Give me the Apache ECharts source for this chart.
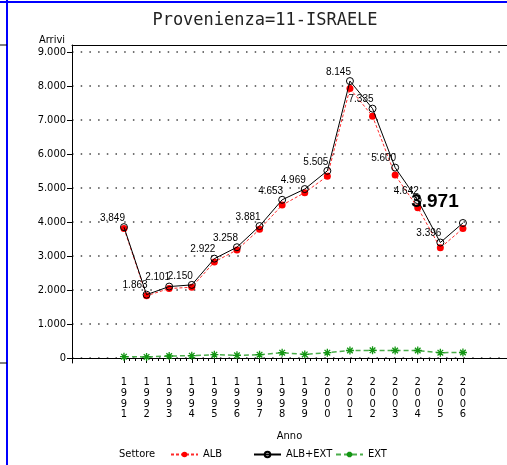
<!DOCTYPE html>
<html lang="it">
<head>
    <meta charset="UTF-8" />
    <title>Provenienza=11-ISRAELE</title>
    <script src="https://cdn.jsdelivr.net/npm/echarts@6/dist/echarts.min.js"></script>
    <style>
        html, body { margin: 0; padding: 0; background: #fff; }
        #main { width: 507px; height: 465px; }
    </style>
</head>
<body>
<div id="main"></div>
<script type="text/javascript">
    // valori
    var anni = [1991, 1992, 1993, 1994, 1995, 1996, 1997, 1998, 1999, 2000, 2001, 2002, 2003, 2004, 2005, 2006];
    var albExt = [3849, 1863, 2101, 2150, 2922, 3258, 3881, 4653, 4969, 5505, 8145, 7335, 5600, 4642, 3396, 3971];
    var alb = [3811, 1831, 2042, 2082, 2825, 3179, 3784, 4497, 4864, 5349, 7925, 7110, 5380, 4422, 3240, 3809];
    var ext = [38, 32, 59, 68, 97, 79, 97, 156, 105, 156, 220, 225, 220, 220, 156, 162];
    var yTicks = [0, 1000, 2000, 3000, 4000, 5000, 6000, 7000, 8000, 9000];

    var narrow = "'Liberation Sans Narrow', 'DejaVu Sans Condensed', 'Liberation Sans', sans-serif";

    function fmt(v) {
        return String(v).replace(/\B(?=(\d{3})+(?!\d))/g, '.');
    }

    // tacche secondarie
    var xMinor = [];
    for (var a = anni[0]; a < anni[anni.length - 1]; a++) {
        xMinor.push(a + 0.25, a + 0.5, a + 0.75);
    }
    var yMinor = [];
    for (var v = 0; v < 9000; v += 200) {
        if (v % 1000 !== 0) yMinor.push(v);
    }

    function pairs(vals) {
        return anni.map(function (a, i) { return [a, vals[i]]; });
    }

    var totData = pairs(albExt);
    totData[totData.length - 1] = {
        value: totData[totData.length - 1],
        label: { fontSize: 19, fontWeight: 'bold', offset: [-28, -8] }
    };

    var xMin = 1988.7, xMax = 2007.95;
    var yMin = -147, yMax = 9206;

    var chart = echarts.init(document.getElementById('main'));
    chart.setOption({
        animation: false,
        title: {
            text: 'Provenienza=11-ISRAELE',
            left: 260,
            textAlign: 'center',
            top: 7,
            textStyle: {
                fontFamily: "'DejaVu Sans Mono', monospace",
                fontSize: 17,
                fontWeight: 'normal',
                color: '#222'
            }
        },
        grid: { left: 72, right: 0, top: 45, bottom: 102 },
        legend: [
            { data: ['ALB'], left: 170, top: 449, padding: 0, itemWidth: 27, itemHeight: 7, selectedMode: false,
              textStyle: { fontFamily: narrow, fontSize: 11, color: '#000' } },
            { data: ['ALB+EXT'], left: 253, top: 449, padding: 0, itemWidth: 27, itemHeight: 7, selectedMode: false,
              textStyle: { fontFamily: narrow, fontSize: 11, color: '#000' } },
            { data: ['EXT'], left: 335, top: 449, padding: 0, itemWidth: 27, itemHeight: 7, selectedMode: false,
              textStyle: { fontFamily: narrow, fontSize: 11, color: '#000' } }
        ],
        xAxis: [
            {
                type: 'value', min: xMin, max: xMax, position: 'bottom',
                axisLine: { show: true, lineStyle: { color: '#000', width: 1 } },
                axisTick: { show: true, customValues: anni, length: 5, lineStyle: { color: '#000' } },
                axisLabel: {
                    customValues: anni, margin: 14,
                    fontFamily: narrow, fontSize: 11, lineHeight: 10.7, color: '#000',
                    formatter: function (val) { return String(val).split('').join('\n'); }
                },
                splitLine: { show: false },
                name: 'Anno', nameLocation: 'middle', nameGap: 68,
                nameTextStyle: { fontFamily: narrow, fontSize: 11, color: '#000' }
            },
            {
                type: 'value', min: xMin, max: xMax, position: 'bottom',
                axisLine: { show: false },
                axisTick: { show: true, customValues: xMinor, length: 3, lineStyle: { color: '#000' } },
                axisLabel: { show: false },
                splitLine: { show: false }
            },
            {
                type: 'value', min: xMin, max: xMax, position: 'top',
                axisLine: { show: true, lineStyle: { color: '#000', width: 1 } },
                axisTick: { show: false },
                axisLabel: { show: false },
                splitLine: { show: false }
            }
        ],
        yAxis: [
            {
                type: 'value', min: yMin, max: yMax,
                axisLine: { show: true, lineStyle: { color: '#000', width: 1 } },
                axisTick: { show: true, customValues: yTicks, length: 5, lineStyle: { color: '#000' } },
                axisLabel: {
                    customValues: yTicks, margin: 6,
                    fontFamily: narrow, fontSize: 11, color: '#000',
                    formatter: function (val) { return fmt(val); }
                },
                splitLine: { show: true, lineStyle: { color: '#444', width: 1.5, type: [1.5, 7.2] } },
                name: 'Arrivi', nameLocation: 'end', nameGap: -1,
                nameTextStyle: { fontFamily: narrow, fontSize: 11, color: '#000', align: 'right', padding: [0, 7, 0, 0] }
            },
            {
                type: 'value', min: yMin, max: yMax,
                axisLine: { show: false },
                axisTick: { show: true, customValues: yMinor, length: 3, lineStyle: { color: '#000' } },
                axisLabel: { show: false },
                splitLine: { show: false }
            }
        ],
        graphic: [
            { type: 'line', shape: { x1: 7, y1: 0, x2: 7, y2: 465 }, style: { stroke: '#0000ff', lineWidth: 2 } },
            { type: 'line', shape: { x1: 0, y1: 2, x2: 507, y2: 2 }, style: { stroke: '#0000ff', lineWidth: 2 } },
            { type: 'line', shape: { x1: 0, y1: 45, x2: 7, y2: 45 }, style: { stroke: '#000', lineWidth: 1 } },
            { type: 'line', shape: { x1: 0, y1: 363, x2: 7, y2: 363 }, style: { stroke: '#000', lineWidth: 1 } },
            { type: 'text', left: 119, top: 449, style: { text: 'Settore', font: '11px ' + narrow, fill: '#000' } }
        ],
        series: [
            {
                name: 'ALB', type: 'line', data: pairs(alb),
                symbol: 'circle', symbolSize: 7,
                itemStyle: { color: '#ff0000' },
                lineStyle: { color: '#ff2a2a', width: 1, type: [3, 2] },
                z: 2
            },
            {
                name: 'ALB+EXT', type: 'line', data: totData,
                symbol: 'circle', symbolSize: 7,
                itemStyle: { color: 'rgba(0,0,0,0)', borderColor: '#000', borderWidth: 1 },
                lineStyle: { color: '#000', width: 1 },
                label: {
                    show: true, position: 'top', distance: 0, offset: [-11.5, 0],
                    fontFamily: "'Liberation Sans', Arial, sans-serif", fontSize: 10, color: '#000',
                    formatter: function (p) { return fmt(p.value[1]); }
                },
                z: 3
            },
            {
                name: 'EXT', type: 'line', data: pairs(ext),
                symbol: 'path://M5,0 L5,10 M0,5 L10,5 M1.5,1.5 L8.5,8.5 M1.5,8.5 L8.5,1.5',
                symbolSize: 8,
                itemStyle: { color: '#139613', borderColor: '#139613', borderWidth: 1.3 },
                lineStyle: { color: '#4cad4c', width: 1.5, type: [5, 3] },
                z: 2
            }
        ]
    });
</script>
</body>
</html>
